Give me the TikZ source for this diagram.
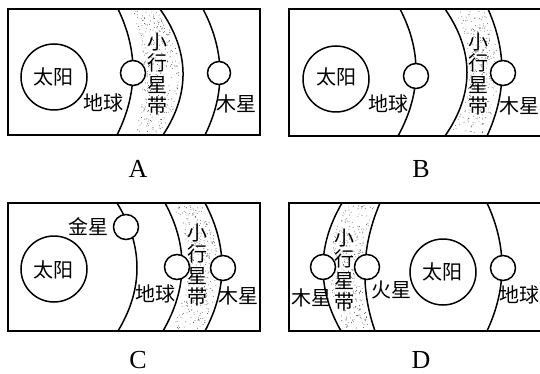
\documentclass[tikz,border=0pt]{standalone}
\usepackage{fontspec}
\setmainfont{Liberation Serif}
\newfontfamily\cjk{Noto Sans CJK SC}

% orbit drawn as a parabolic arc: x at top, x at middle, x at bottom, y top, y bottom
\newcommand\orbitarc[5]{%
  \pgfmathsetmacro\oym{(#4+#5)/2}%
  \pgfmathsetmacro\oxq{2*#2-(#1+#3)/2}%
  \pgfmathsetmacro\oca{#1+2/3*(\oxq-#1)}%
  \pgfmathsetmacro\ocb{#3+2/3*(\oxq-#3)}%
  \pgfmathsetmacro\oya{#4+2/3*(\oym-#4)}%
  \pgfmathsetmacro\oyb{#5+2/3*(\oym-#5)}%
  \draw[orbit] (#1,#4) .. controls (\oca,\oya) and (\ocb,\oyb) .. (#3,#5);}

% stippled asteroid belt between two parabolic boundaries
\newcommand\beltdots[8]{%
  \foreach \k in {1,...,300}{%
    \pgfmathsetmacro\bt{0.01+0.98*rnd}%
    \pgfmathsetmacro\bs{rnd}%
    \pgfmathsetmacro\qa{2*#2-(#1+#3)/2}%
    \pgfmathsetmacro\qb{2*#5-(#4+#6)/2}%
    \pgfmathsetmacro\xa{(1-\bt)^2*#1+2*\bt*(1-\bt)*\qa+\bt^2*#3}%
    \pgfmathsetmacro\xb{(1-\bt)^2*#4+2*\bt*(1-\bt)*\qb+\bt^2*#6}%
    \pgfmathsetmacro\px{\xa+\bs*(\xb-\xa)}%
    \pgfmathsetmacro\py{#7+\bt*(#8-#7)}%
    \fill[black!70] (\px,\py) circle[radius=0.45pt];
  }}

\begin{document}
\begin{tikzpicture}[x=1pt,y=-1pt,
  frame/.style={line width=1.8pt},
  orbit/.style={line width=1.5pt},
  planet/.style={circle,draw,line width=1.5pt,fill=white,inner sep=0pt,minimum size=25pt},
  sun/.style={circle,draw,line width=1.5pt,inner sep=0pt,minimum size=66pt},
  lbl/.style={font=\cjk\fontsize{20}{21.5}\selectfont,inner sep=0pt},
  beltlbl/.style={lbl,align=center},
  tag/.style={font=\fontsize{26}{26}\selectfont,inner sep=0pt}]
\useasboundingbox (0,0) rectangle (540,374);
\pgfmathsetseed{7}

% ---------- A ----------
\beltdots{132}{143}{132}{158}{180}{160}{10}{134}
\draw[frame] (8,9) rectangle (260,135);
\orbitarc{118}{133}{117}{9}{135}
\orbitarc{160}{183}{163}{9}{135}
\orbitarc{203}{220}{205}{9}{135}
\node[sun] (sunA) at (54,77) {};
\node[lbl] (sunAt) at (53,77) {太阳};
\node[planet] (earthA) at (133,73) {};
\node[planet,minimum size=23pt] (jupA) at (219,73) {};
\node[lbl] (earthAt) at (103,103) {地球};
\node[beltlbl] (beltAt) at (157,74) {小\\行\\星\\带};
\node[lbl] (jupAt) at (236,104) {木星};
\node[tag] (tagA) at (138,169) {A};

% ---------- B ----------
\beltdots{452}{470}{450}{484}{498}{483}{10}{134}
\draw[frame] (548,9) -- (289,9) -- (289,136) -- (548,136);
\orbitarc{400}{416}{398}{9}{136}
\orbitarc{445}{467}{445}{9}{136}
\orbitarc{488}{502}{487}{9}{136}
\node[sun] (sunB) at (336,79) {};
\node[lbl] (sunBt) at (336,77) {太阳};
\node[planet] (earthB) at (416,76) {};
\node[planet] (jupB) at (503,73) {};
\node[lbl] (earthBt) at (388,104) {地球};
\node[beltlbl] (beltBt) at (478,74) {小\\行\\星\\带};
\node[lbl] (jupBt) at (519,106) {木星};
\node[tag] (tagB) at (421,169) {B};

% ---------- C ----------
\beltdots{172}{188}{170}{201}{218}{201}{204}{330}
\draw[frame] (8,203) rectangle (260,331);
\orbitarc{117}{137}{118}{203}{331}
\orbitarc{165}{182}{163}{203}{331}
\orbitarc{205}{222}{205}{203}{331}
\node[sun] (sunC) at (54,269) {};
\node[lbl] (sunCt) at (53,270) {太阳};
\node[planet] (venusC) at (126,227) {};
\node[planet] (earthC) at (177,267) {};
\node[planet] (jupC) at (223,268) {};
\node[lbl] (venusCt) at (88,227) {金星};
\node[lbl] (earthCt) at (155,294) {地球};
\node[beltlbl] (beltCt) at (197,265) {小\\行\\星\\带};
\node[lbl] (jupCt) at (238,296) {木星};
\node[tag] (tagC) at (138,360) {C};

% ---------- D ----------
\beltdots{347}{330}{346}{377}{362}{371}{204}{330}
\draw[frame] (548,203) -- (289,203) -- (289,331) -- (548,331);
\orbitarc{342}{323}{341}{203}{331}
\orbitarc{380}{365}{375}{203}{331}
\orbitarc{487}{502}{487}{203}{331}
\node[sun] (sunD) at (443,272) {};
\node[lbl] (sunDt) at (442,272) {太阳};
\node[planet] (jupD) at (323,267) {};
\node[planet] (marsD) at (367,267) {};
\node[planet] (earthD) at (503,268) {};
\node[lbl] (jupDt) at (311,298) {木星};
\node[beltlbl] (beltDt) at (344,270) {小\\行\\星\\带};
\node[lbl] (marsDt) at (391,290) {火星};
\node[lbl] (earthDt) at (519,295) {地球};
\node[tag] (tagD) at (421,360) {D};
\end{tikzpicture}
\end{document}
